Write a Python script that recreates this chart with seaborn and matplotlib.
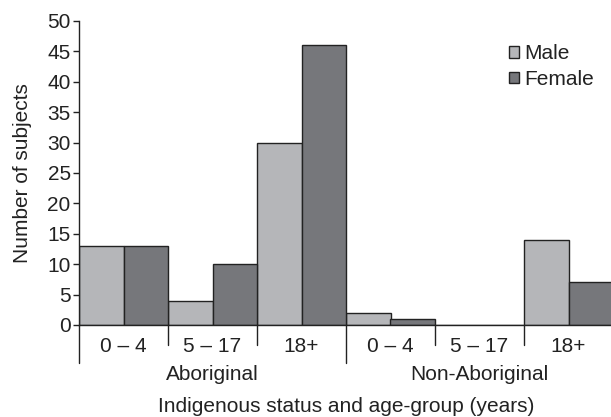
import numpy as np
import pandas as pd
import matplotlib
matplotlib.use("Agg")
import matplotlib.pyplot as plt
import seaborn as sns
from matplotlib.transforms import blended_transform_factory

# 数据
groups = ["Aboriginal", "Non-Aboriginal"]
ages = ["0 – 4", "5 – 17", "18+"]
male = [13, 4, 30, 2, 0, 14]
female = [13, 10, 46, 1, 0, 7]

sns.set_style("white")
plt.rcParams["font.family"] = ["Liberation Sans", "DejaVu Sans"]

keys = [f"{g}|{a}" for g in groups for a in ages]
df = pd.DataFrame({
    "cat": keys * 2,
    "n": male + female,
    "sex": ["Male"] * 6 + ["Female"] * 6,
})

fig = plt.figure(figsize=(6.11, 4.17), dpi=100)
W, H = 611, 417
x0, x1, y0, y1 = 79, 611, 325, 21
ax = fig.add_axes([x0 / W, 1 - y0 / H, (x1 - x0) / W, (y0 - y1) / H])

sns.barplot(data=df, x="cat", y="n", hue="sex", order=keys, width=1.0,
            palette={"Male": "#b5b6b9", "Female": "#76777b"},
            edgecolor="#222222", linewidth=1.0, ax=ax, saturation=1)

fs = 15
cw = 89.0
ax.set_xlim(-0.5, -0.5 + (x1 - x0) / cw)
ax.set_ylim(0, 50)
ax.set_yticks(range(0, 51, 5))
ax.tick_params(axis="y", direction="out", length=4, width=1, color="#222222",
               labelsize=fs, pad=2, left=True, labelcolor="#222222")
ax.set_xticks([])
ax.set_xlabel("")
ax.set_ylabel("Number of subjects", fontsize=fs, color="#222222", labelpad=11)
for s in ["top", "right"]:
    ax.spines[s].set_visible(False)
for s in ["left", "bottom"]:
    ax.spines[s].set_color("#222222")
    ax.spines[s].set_linewidth(1)

trans = blended_transform_factory(ax.transData, ax.transAxes)
ph = y0 - y1
for i in range(7):
    xs = i - 0.5
    depth = 38 if i in (0, 3, 6) else 20
    ax.plot([xs, xs], [0, -depth / ph], transform=trans, color="#222222",
            lw=1, clip_on=False)

for i, k in enumerate(keys):
    ax.text(i, -21 / ph, k.split("|")[1], transform=trans, ha="center",
            va="center", fontsize=fs, color="#222222")
for j, g in enumerate(groups):
    ax.text(3 * j + 1, -49 / ph, g, transform=trans, ha="center",
            va="center", fontsize=fs, color="#222222")
ax.text(2.5, -82 / ph, "Indigenous status and age-group (years)",
        transform=trans, ha="center", va="center", fontsize=fs, color="#222222")

leg = ax.legend(loc="upper left", bbox_to_anchor=((501 - x0) / (x1 - x0), (y0 - 36) / ph),
                frameon=False, fontsize=fs, handlelength=0.45, handleheight=0.45,
                handletextpad=0.25, labelspacing=0.3, borderaxespad=0)
for t in leg.get_texts():
    t.set_color("#222222")

fig.savefig("out.png", dpi=100)
